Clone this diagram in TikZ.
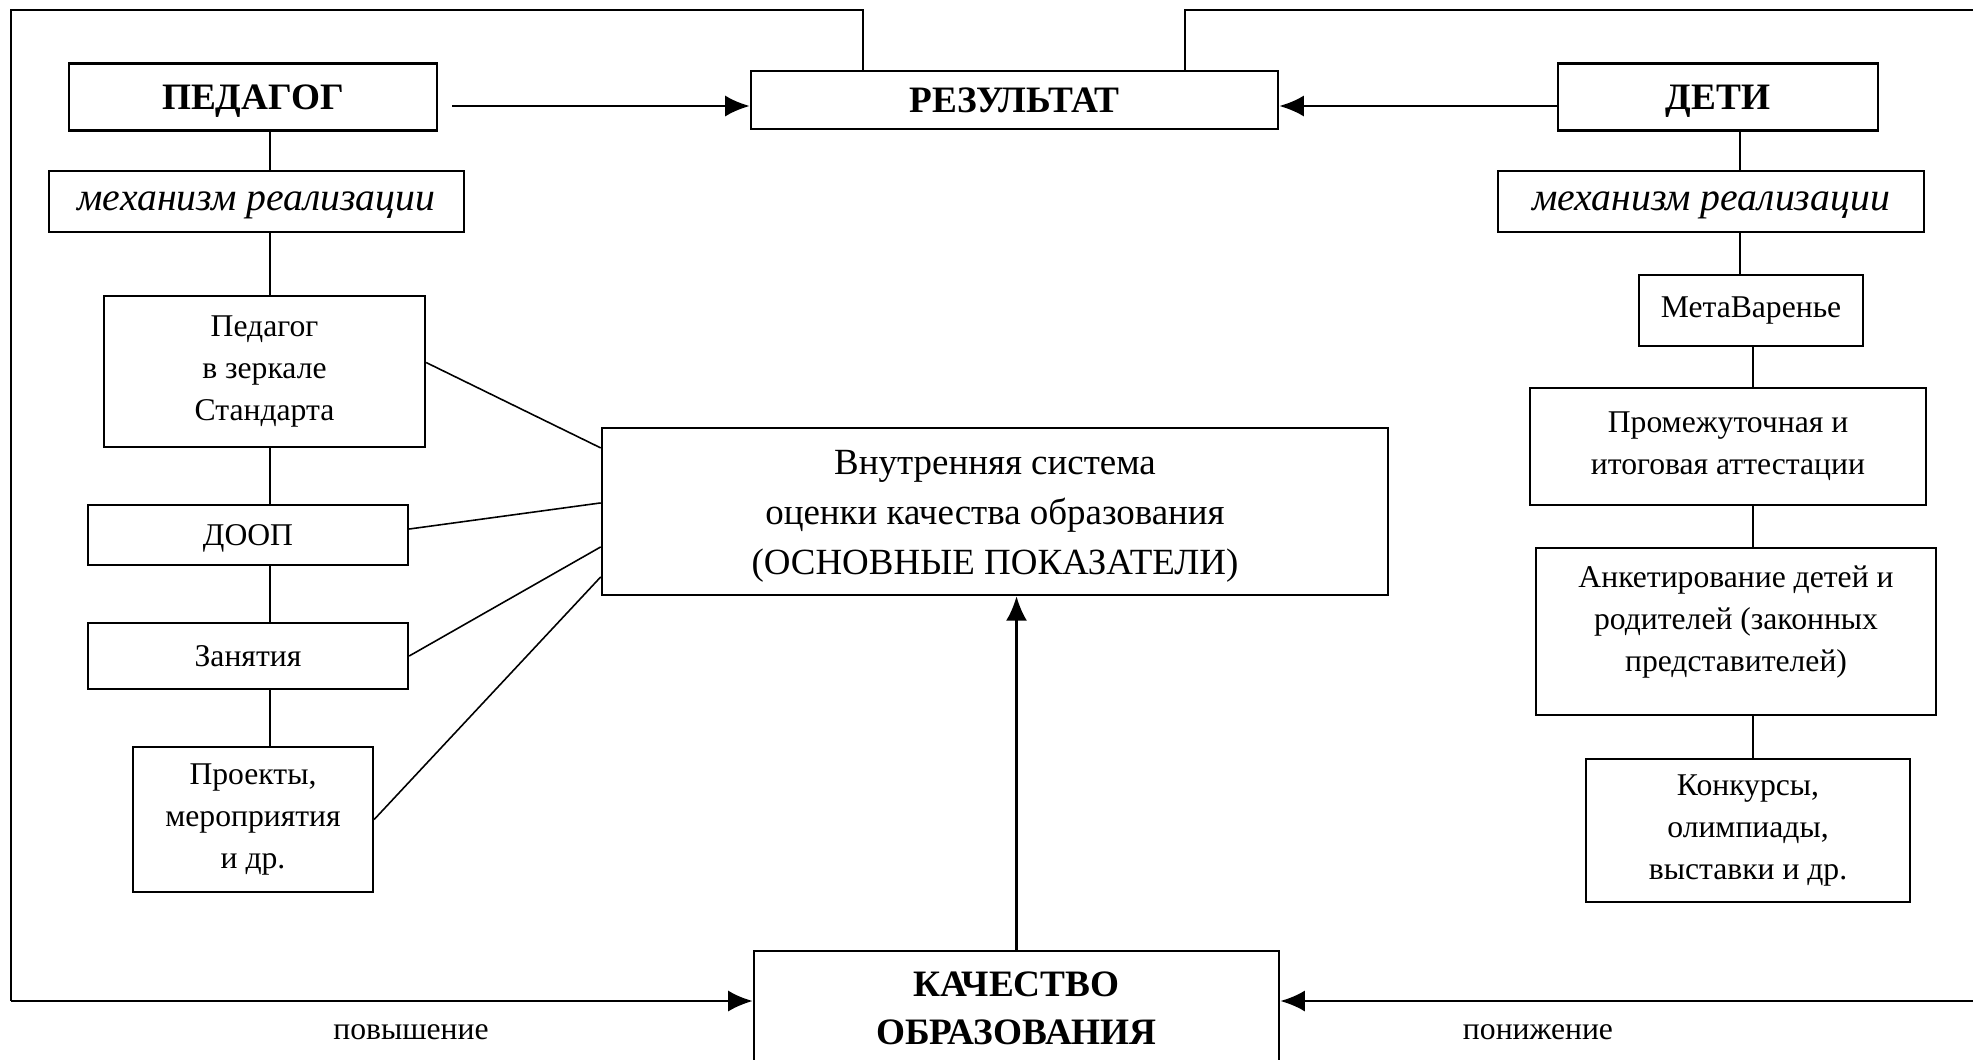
\documentclass[tikz,border=0pt]{standalone}
\usepackage{fontspec}
\setmainfont{Liberation Serif}
\usetikzlibrary{arrows.meta,calc}

\begin{document}
\begin{tikzpicture}[x=0.01cm, y=-0.01cm,
    caja/.style={draw, line width=0.6pt, inner sep=0pt, align=center},
    titulo/.style={caja, font=\fontsize{10.6pt}{13.6pt}\selectfont\bfseries},
    mecanismo/.style={caja, text depth=0pt, font=\fontsize{11.3pt}{13pt}\selectfont\itshape},
    elem/.style={caja, font=\fontsize{9pt}{12pt}\selectfont},
    elemd/.style={caja, font=\fontsize{9pt}{12pt}\selectfont},
    enlace/.style={line width=0.45pt},
    marco/.style={line width=0.5pt},
    flecha/.style={line width=0.8pt, -{Latex[length=7pt,width=6pt]}}]

    \useasboundingbox (0,0) rectangle (1973,1059);

    % Cajas superiores
    \node[titulo, text depth=0pt, minimum width=3.68cm, minimum height=0.67cm] (ped) at (253,97) {ПЕДАГОГ};
    \node[titulo, text depth=0pt, minimum width=5.27cm, minimum height=0.58cm] (res) at (1014.5,100) {РЕЗУЛЬТАТ};
    \node[titulo, text depth=0pt, minimum width=3.20cm, minimum height=0.67cm] (deti) at (1718,97) {ДЕТИ};
    \node[mecanismo, minimum width=4.15cm, minimum height=0.61cm] (mecI) at (256.5,201.5) {механизм реализации};
    \node[mecanismo, minimum width=4.26cm, minimum height=0.61cm] (mecD) at (1711,201.5) {механизм реализации};

    % Columna izquierda
    \node[elem, minimum width=3.21cm, minimum height=1.51cm] (espejo) at (264.5,371.5) {Педагог\\ в зеркале\\Стандарта};
    \node[elem, text depth=0pt, minimum width=3.20cm, minimum height=0.60cm] (doop) at (248,535) {ДООП};
    \node[elem, minimum width=3.20cm, minimum height=0.66cm] (zan) at (248,656) {Занятия};
    \node[elem, minimum width=2.40cm, minimum height=1.45cm] (proy) at (253,819.5) {Проекты,\\мероприятия\\и др.};

    % Columna derecha
    \node[elemd, minimum width=2.24cm, minimum height=0.71cm] (meta) at (1751,310.5) {МетаВаренье};
    \node[elemd, minimum width=3.96cm, minimum height=1.17cm] (atest) at (1728,446.5) {Промежуточная и\\итоговая аттестации};
    \node[elemd, minimum width=4.00cm, minimum height=1.67cm] (anket) at (1736,631.5) {Анкетирование детей и\\родителей (законных\\представителей)\rule[-0.26cm]{0pt}{0.26cm}};
    \node[elemd, minimum width=3.24cm, minimum height=1.43cm] (konk) at (1748,830.5) {Конкурсы,\\олимпиады,\\выставки и др.};

    % Centro
    \node[caja, font=\fontsize{10.5pt}{14.2pt}\selectfont, minimum width=7.86cm, minimum height=1.67cm] (vsoko) at (995,511.5) {\rule{0pt}{0.34cm}Внутренняя система\\оценки качества образования\\(ОСНОВНЫЕ ПОКАЗАТЕЛИ)};
    \node[titulo, minimum width=5.25cm, minimum height=1.14cm] (kach) at (1016.5,1008) {КАЧЕСТВО\\ОБРАЗОВАНИЯ};

    % Puntos auxiliares
    \coordinate (ejeI) at (270,0);
    \coordinate (ejeD) at (1740,0);
    \coordinate (ejeD2) at (1753,0);
    \coordinate (subI) at (863,0);
    \coordinate (subD) at (1185,0);
    \coordinate (esqI) at (11,10);
    \coordinate (esqD) at (1985,10);
    \coordinate (lazoI) at (11,1001);
    \coordinate (lazoD) at (1985,1001);
    \coordinate (nivel) at (0,106);

    % Lineas verticales
    \draw[enlace] (ejeI |- ped.south) -- (ejeI |- mecI.north);
    \draw[enlace] (ejeI |- mecI.south) -- (ejeI |- espejo.north);
    \draw[enlace] (ejeI |- espejo.south) -- (ejeI |- doop.north);
    \draw[enlace] (ejeI |- doop.south) -- (ejeI |- zan.north);
    \draw[enlace] (ejeI |- zan.south) -- (ejeI |- proy.north);
    \draw[enlace] (ejeD |- deti.south) -- (ejeD |- mecD.north);
    \draw[enlace] (ejeD |- mecD.south) -- (ejeD |- meta.north);
    \draw[enlace] (ejeD2 |- meta.south) -- (ejeD2 |- atest.north);
    \draw[enlace] (ejeD2 |- atest.south) -- (ejeD2 |- anket.north);
    \draw[enlace] (ejeD2 |- anket.south) -- (ejeD2 |- konk.north);

    % Lineas hacia el centro
    \draw[enlace] ($(espejo.east)+(0,-9)$) -- ($(vsoko.north west)+(0,21)$);
    \draw[enlace] ($(doop.east)+(0,-6)$) -- ($(vsoko.north west)+(0,76)$);
    \draw[enlace] (zan.east) -- ($(vsoko.north west)+(0,120)$);
    \draw[enlace] (proy.east) -- ($(vsoko.north west)+(0,150)$);

    % Flechas
    \draw[flecha] ([xshift=0.14cm]ped.east |- nivel) -- (res.west |- nivel);
    \draw[flecha] (deti.west |- nivel) -- (res.east |- nivel);
    \draw[flecha] (kach.north) -- (kach.north |- vsoko.south);

    % Lazos exteriores
    \draw[marco] (subI |- res.north) |- (esqI) -- (lazoI);
    \draw[flecha] (lazoI) -- (lazoI -| kach.west);
    \draw[marco] (subD |- res.north) |- (esqD) -- (lazoD);
    \draw[flecha] (lazoD) -- (lazoD -| kach.east);

    % Etiquetas
    \node[font=\fontsize{9pt}{11pt}\selectfont] (pov) at (411,1032) {повышение};
    \node[font=\fontsize{9pt}{11pt}\selectfont] (pon) at (1538,1032) {понижение};

\end{tikzpicture}
\end{document}
